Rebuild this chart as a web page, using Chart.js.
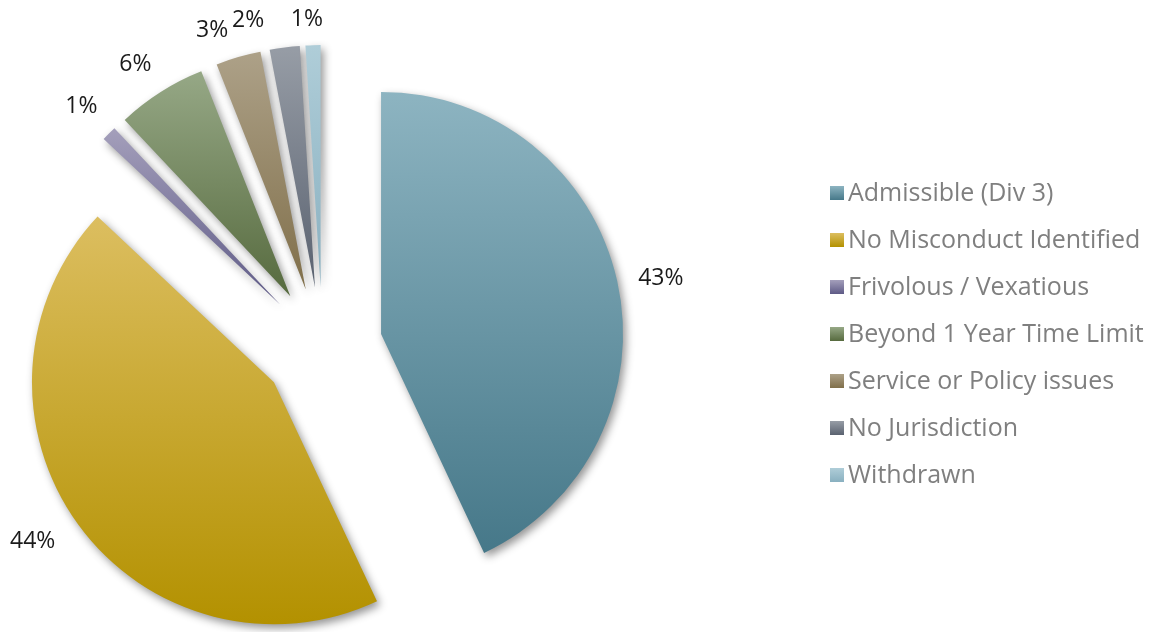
<!DOCTYPE html>
<html>
<head>
<meta charset="utf-8">
<script src="https://cdn.jsdelivr.net/npm/chart.js@4/dist/chart.umd.min.js"></script>
<style>
  html, body { margin: 0; padding: 0; background: #ffffff; }
  canvas { display: block; }
</style>
</head>
<body>
<canvas id="complaints" width="1158" height="632"></canvas>
<script>
// Outcome categories and their share of all complaints (percent)
const categories = [
  'Admissible (Div 3)',
  'No Misconduct Identified',
  'Frivolous / Vexatious',
  'Beyond 1 Year Time Limit',
  'Service or Policy issues',
  'No Jurisdiction',
  'Withdrawn'
];
const shares = [43, 44, 1, 6, 3, 2, 1];

// Two-stop vertical gradient per slice (light top, deep bottom)
const topColors    = ['#8db4c1', '#dcbe60', '#a49fbb', '#96a886', '#ada188', '#979da6', '#afcdd8'];
const bottomColors = ['#467889', '#b39100', '#5e5a86', '#566a3e', '#806f4a', '#5a6270', '#89b0c0'];

// Geometry / style
const PIE_RADIUS = 242;
const EXPLODE = 60;           // distance every slice is pulled out from the centre
const LABEL_GAP = 20;
const labelNudge = [[2, 3], [-11, 0], [-2, -7], [-6, -4], [-16, 0], [-32, 1], [-5, 2]];
const LEGEND_X = 830, LEGEND_TOP = 186, LEGEND_ROW = 47, SWATCH = 14;

function sliceAngles(i) {
  const total = shares.reduce((a, b) => a + b, 0);
  const before = shares.slice(0, i).reduce((a, b) => a + b, 0);
  const start = -Math.PI / 2 + 2 * Math.PI * before / total;
  const end = start + 2 * Math.PI * shares[i] / total;
  return [start, end];
}

// Gradient spans the vertical extent of the (exploded) slice
function sliceFill(context) {
  const chart = context.chart;
  const area = chart.chartArea;
  const i = context.dataIndex;
  if (!area || i === undefined) return topColors[i] || topColors[0];
  const [start, end] = sliceAngles(i);
  const mid = (start + end) / 2;
  const cy = (area.top + area.bottom) / 2 + Math.sin(mid) * EXPLODE;
  let minY = cy, maxY = cy;
  for (let k = 0; k <= 64; k++) {
    const a = start + (end - start) * k / 64;
    const y = cy + PIE_RADIUS * Math.sin(a);
    minY = Math.min(minY, y);
    maxY = Math.max(maxY, y);
  }
  const g = chart.ctx.createLinearGradient(0, minY, 0, maxY);
  g.addColorStop(0, topColors[i]);
  g.addColorStop(1, bottomColors[i]);
  return g;
}

// Pull each slice outward along its bisector
const explode = {
  id: 'explode',
  afterDatasetsUpdate(chart) {
    chart.getDatasetMeta(0).data.forEach((arc) => {
      const mid = (arc.startAngle + arc.endAngle) / 2;
      arc.x += Math.cos(mid) * EXPLODE;
      arc.y += Math.sin(mid) * EXPLODE;
    });
  }
};

// Soft drop shadow under the slices
const sliceShadow = {
  id: 'sliceShadow',
  beforeDatasetsDraw(chart) {
    const ctx = chart.ctx;
    ctx.save();
    ctx.shadowColor = 'rgba(0, 0, 0, 0.42)';
    ctx.shadowBlur = 9;
    ctx.shadowOffsetX = 3;
    ctx.shadowOffsetY = 4;
  },
  afterDatasetsDraw(chart) {
    chart.ctx.restore();
  }
};

// Percentage labels outside each slice
const outsideLabels = {
  id: 'outsideLabels',
  afterDraw(chart) {
    const ctx = chart.ctx;
    ctx.save();
    ctx.font = '23px "Open Sans", sans-serif';
    ctx.fillStyle = '#1a1a1a';
    ctx.textAlign = 'center';
    ctx.textBaseline = 'middle';
    chart.getDatasetMeta(0).data.forEach((arc, i) => {
      const mid = (arc.startAngle + arc.endAngle) / 2;
      const ux = Math.cos(mid), uy = Math.sin(mid);
      const text = shares[i] + '%';
      const w = ctx.measureText(text).width;
      const h = 16;
      const r = arc.outerRadius + LABEL_GAP;
      const x = arc.x + ux * r + ux * w / 2 + labelNudge[i][0];
      const y = arc.y + uy * r + uy * h / 2 + labelNudge[i][1];
      ctx.fillText(text, x, y);
    });
    ctx.restore();
  }
};

// Legend: gradient swatch + grey caption per category
const sideLegend = {
  id: 'sideLegend',
  afterDraw(chart) {
    const ctx = chart.ctx;
    ctx.save();
    ctx.font = '25px "Open Sans", sans-serif';
    ctx.textAlign = 'left';
    ctx.textBaseline = 'middle';
    categories.forEach((text, i) => {
      const top = LEGEND_TOP + i * LEGEND_ROW;
      const g = ctx.createLinearGradient(0, top, 0, top + SWATCH);
      g.addColorStop(0, topColors[i]);
      g.addColorStop(1, bottomColors[i]);
      ctx.fillStyle = g;
      ctx.fillRect(LEGEND_X, top, SWATCH, SWATCH);
      ctx.fillStyle = '#7f7f7f';
      ctx.fillText(text, LEGEND_X + SWATCH + 4, top + SWATCH / 2 + 1);
    });
    ctx.restore();
  }
};

function draw() {
  new Chart(document.getElementById('complaints'), {
    type: 'pie',
    data: {
      labels: categories,
      datasets: [{
        data: shares,
        backgroundColor: sliceFill,
        borderWidth: 0,
        radius: PIE_RADIUS,
        clip: false
      }]
    },
    options: {
      responsive: false,
      animation: false,
      events: [],
      layout: {
        padding: { left: 0, right: 513, top: 62, bottom: 0 }
      },
      plugins: {
        tooltip: { enabled: false },
        legend: { display: false }
      }
    },
    plugins: [explode, sliceShadow, outsideLabels, sideLegend]
  });
}

if (document.fonts && document.fonts.load) {
  document.fonts.load('25px "Open Sans"').then(draw, draw);
} else {
  draw();
}
</script>
</body>
</html>
